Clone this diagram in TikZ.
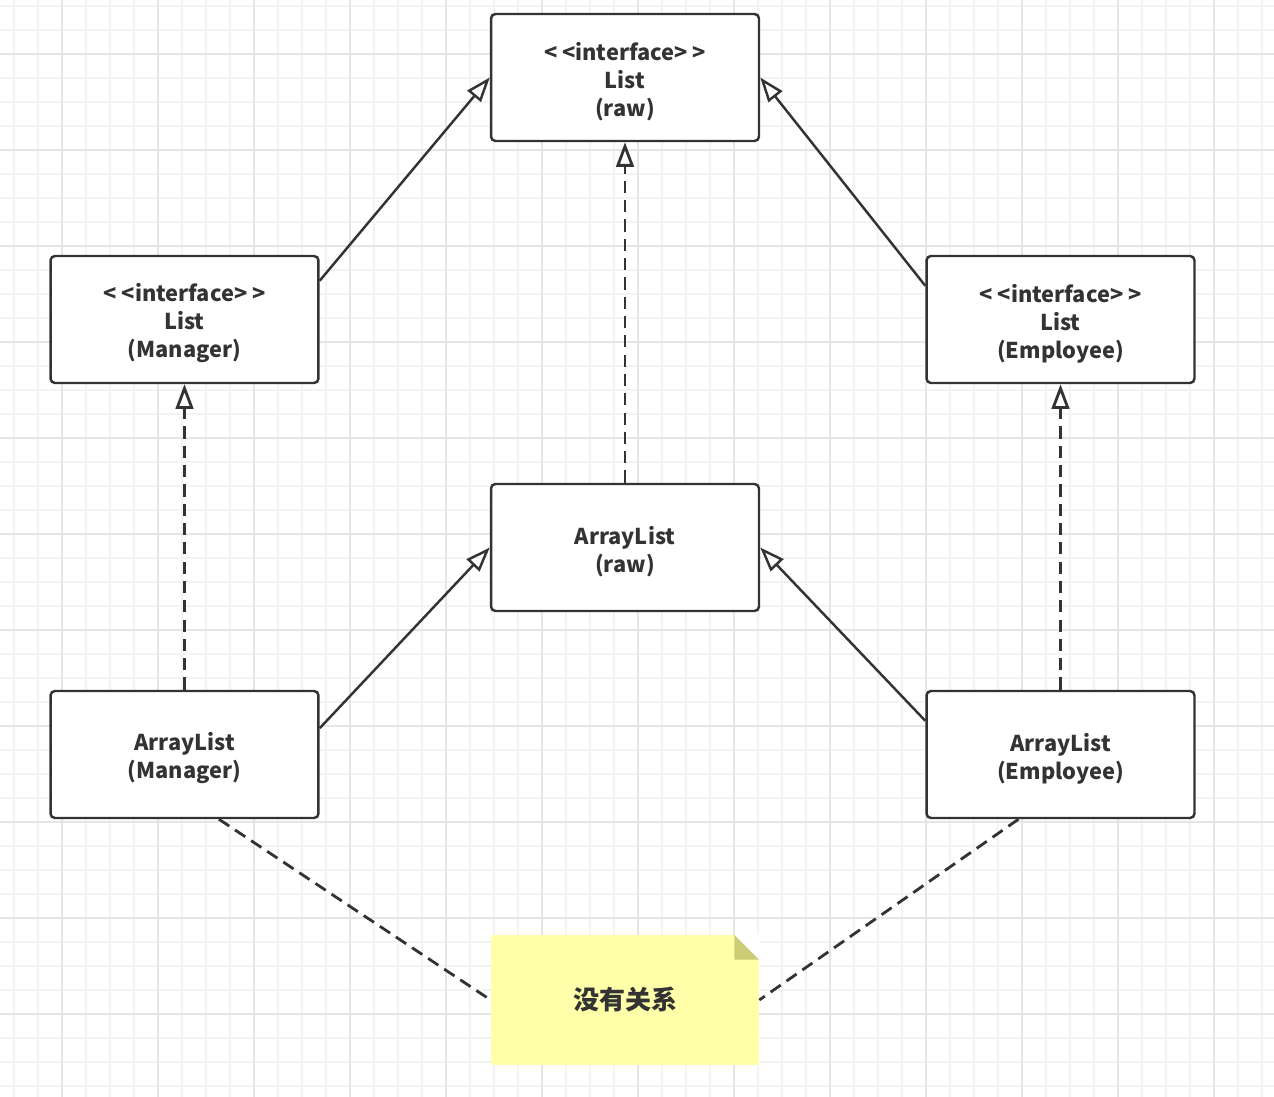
\documentclass[tikz,border=0pt]{standalone}
\usepackage{fontspec}
\setmainfont{Noto Sans CJK SC}
\usetikzlibrary{arrows.meta}
\definecolor{ink}{RGB}{51,51,51}
\definecolor{gridminor}{RGB}{243,243,243}
\definecolor{gridmajor}{RGB}{229,229,229}
\definecolor{notefill}{RGB}{255,255,170}
\definecolor{notefold}{RGB}{204,204,119}
\newcommand{\toppad}[1]{\raisebox{0pt}[\dimexpr\height+4.5pt\relax]{#1}}
\begin{document}
\begin{tikzpicture}[x=0.02cm, y=-0.02cm,
	cls/.style = {draw=ink, line width=1.4pt, rounded corners=2.5pt, fill=white, inner sep=0pt,
		minimum width=5.36cm, minimum height=2.54cm, align=center, text=ink,
		font=\fontsize{12.4}{15.9}\selectfont\bfseries},
	note/.style = {fill=notefill, inner sep=0pt, minimum width=5.36cm, minimum height=2.6cm,
		text=ink, font=\fontsize{14.8}{16}\selectfont\bfseries},
	inherit/.style = {draw=ink, line width=1.4pt, -{Triangle[open, length=14pt, width=10pt]}},
	realize/.style = {inherit, line width=1.6pt, dash pattern=on 7pt off 4pt},
	link/.style = {draw=ink, line width=1.6pt, dash pattern=on 7pt off 4pt}]

		\useasboundingbox (0,0) rectangle (1274,1097);
		\fill[white] (0,0) rectangle (1274,1097);
		\foreach \gx in {14,38,...,1274} \draw[gridminor, line width=1pt] (\gx,0) -- (\gx,1097);
		\foreach \gy in {6,30,...,1097} \draw[gridminor, line width=1pt] (0,\gy) -- (1274,\gy);
		\foreach \gx in {62,158,...,1274} \draw[gridmajor, line width=1pt] (\gx,0) -- (\gx,1097);
		\foreach \gy in {54,150,...,1097} \draw[gridmajor, line width=1pt] (0,\gy) -- (1274,\gy);

		\node[cls] (listraw) at (625,77.5) {\toppad{<\:<interface>\:>}\\List\\(raw)};
		\node[cls] (listmgr) at (184.5,319.5) {\toppad{<\:<interface>\:>}\\List\\(Manager)};
		\node[cls] (listemp) at (1060.5,319.5) {\toppad{<\:<interface>\:>}\\List\\(Employee)};
		\node[cls] (alraw) at (625,547.5) {\toppad{ArrayList}\\(raw)};
		\node[cls] (almgr) at (184.5,754.5) {\toppad{ArrayList}\\(Manager)};
		\node[cls] (alemp) at (1060.5,754.5) {\toppad{ArrayList}\\(Employee)};
		\node[note] (memo) at (625,1000) {没有关系};
		\fill[notefold] (memo.north east) ++(-25,0) -- ++(25,25) -- ++(-25,0) -- cycle;
		\fill[white] (memo.north east) ++(-25,0) -- ++(25,0) -- ++(0,25) -- cycle;

		\draw[inherit] (listmgr.16.5) -- (listraw.west);
		\draw[inherit] (listemp.166.7) -- (listraw.east);
		\draw[realize] (alraw.north) -- (listraw.south);
		\draw[realize] (almgr.north) -- (listmgr.south);
		\draw[realize] (alemp.north) -- (listemp.south);
		\draw[inherit] (almgr.11.2) -- (alraw.west);
		\draw[inherit] (alemp.166.7) -- (alraw.east);
		\draw[link] (almgr.-62.2) -- (memo.west);
		\draw[link] (alemp.-123.8) -- (memo.east);
	\end{tikzpicture}
\end{document}
